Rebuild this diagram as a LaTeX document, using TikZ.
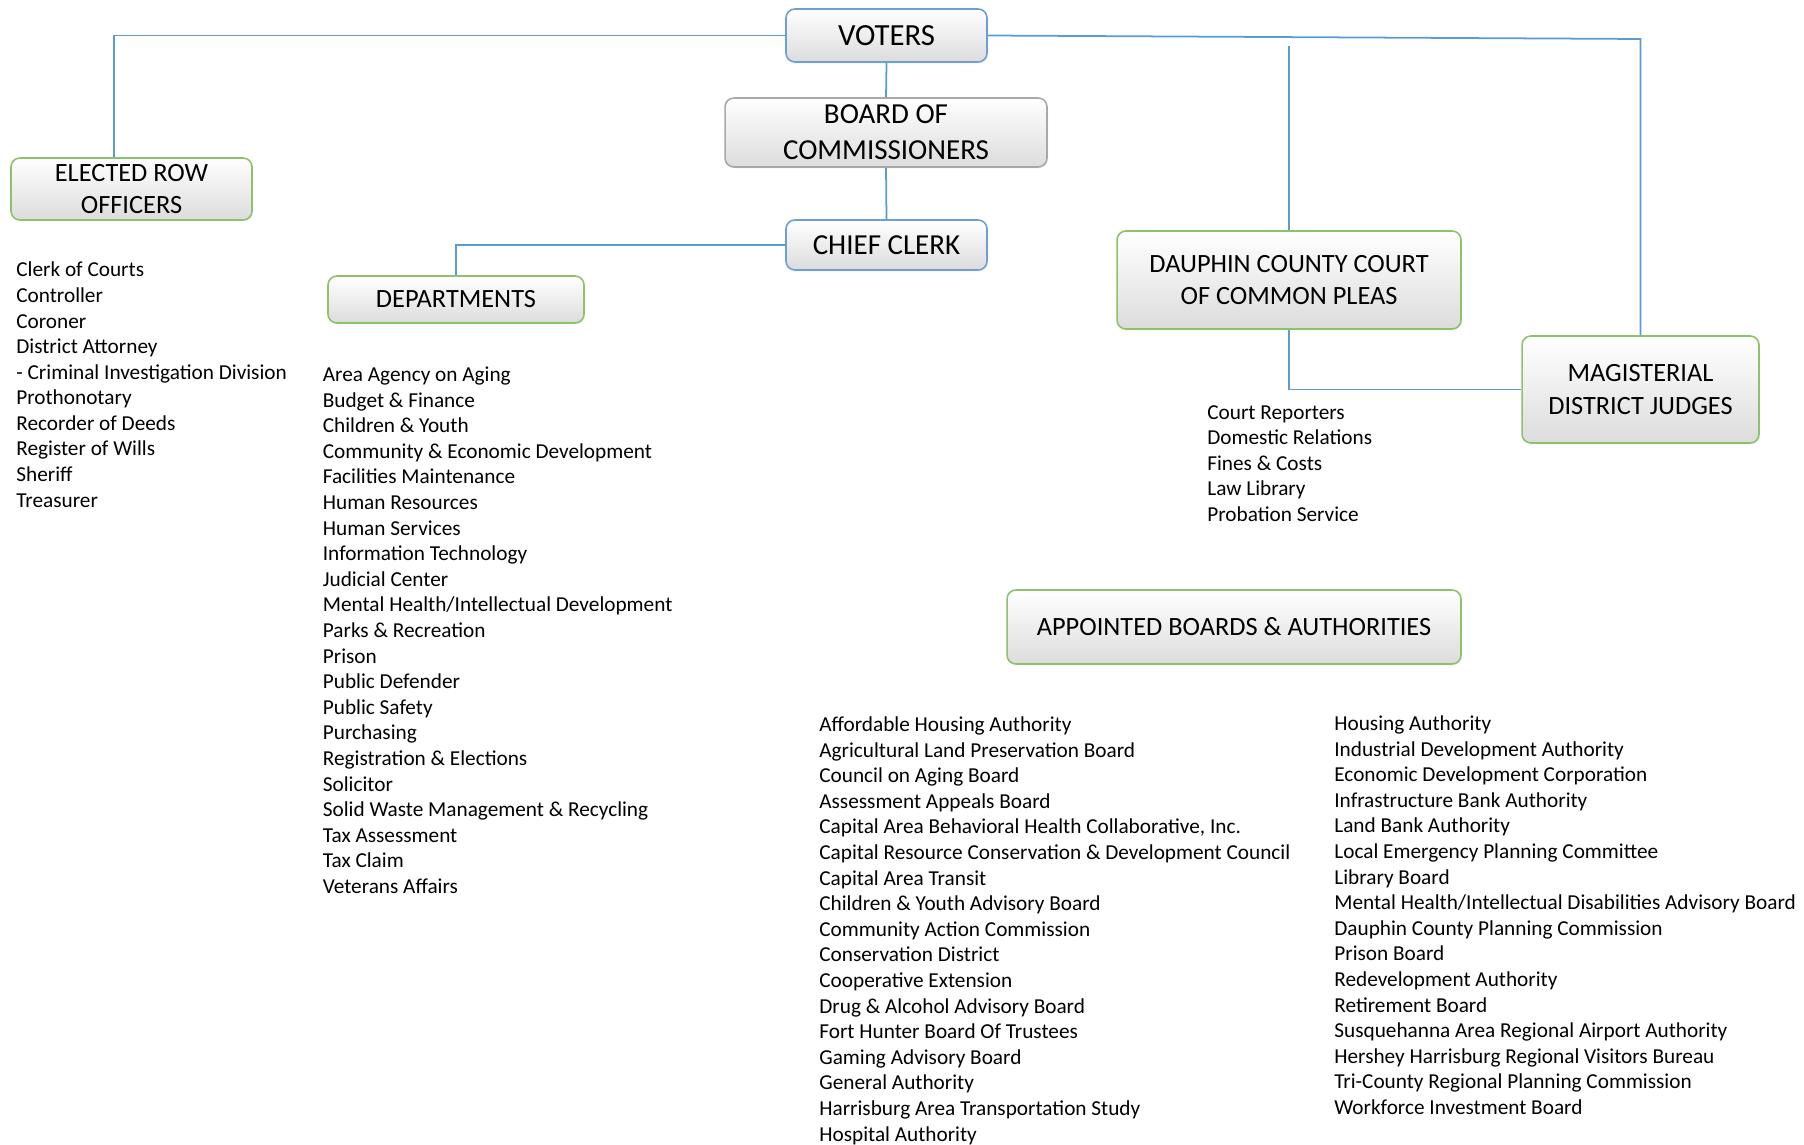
\documentclass[tikz,border=0pt]{standalone}
\usepackage{fontspec}
\setmainfont{Carlito}
\usepackage{tikz}
\usetikzlibrary{shadows}
\definecolor{OrgLine}{HTML}{5B9BD5}
\definecolor{OrgBlue}{HTML}{6A9FD8}
\definecolor{OrgGreen}{HTML}{8CC26C}
\definecolor{OrgGrey}{HTML}{A8A8A8}
\definecolor{OrgShade}{HTML}{DCDCDC}

\begin{document}
\begin{tikzpicture}[
      x=0.02cm,y=-0.02cm,
      link/.style={draw=OrgLine,line width=1pt},
      orgbox/.style={draw,line width=0.9pt,rounded corners=5pt,align=center,
        top color=white,bottom color=OrgShade,inner sep=2pt,
        drop shadow={opacity=0.12,shadow xshift=0.6pt,shadow yshift=-0.8pt},
        font=\fontsize{15}{18.4}\selectfont},
      listtext/.style={anchor=base west,inner sep=0pt,font=\fontsize{12.1}{14.6}\selectfont}
    ]
    \useasboundingbox (0,0) rectangle (1804,1145);

    \node[orgbox,draw=OrgBlue,minimum width=4.02cm,minimum height=1.06cm,
      font=\fontsize{17.5}{21}\selectfont] (voters) at (886.5,35.5) {VOTERS};
    \node[orgbox,draw=OrgGrey,minimum width=6.44cm,minimum height=1.38cm,
      font=\fontsize{16.5}{20.5}\selectfont] (board) at (886,132.5)
      {BOARD OF\\COMMISSIONERS};
    \node[orgbox,draw=OrgBlue,minimum width=4.02cm,minimum height=1.0cm,
      font=\fontsize{16.5}{20}\selectfont] (clerk) at (886.5,245) {CHIEF CLERK};
    \node[orgbox,draw=OrgGreen,minimum width=5.12cm,minimum height=0.94cm]
      (depts) at (456,299.5) {DEPARTMENTS};
    \node[orgbox,draw=OrgGreen,minimum width=4.82cm,minimum height=1.24cm]
      (elected) at (131.5,189) {ELECTED ROW\\OFFICERS};
    \node[orgbox,draw=OrgGreen,minimum width=6.88cm,minimum height=1.96cm]
      (court) at (1289,280) {DAUPHIN COUNTY COURT\\OF COMMON PLEAS};
    \node[orgbox,draw=OrgGreen,minimum width=4.74cm,minimum height=2.14cm]
      (magist) at (1640.5,389.5) {MAGISTERIAL\\DISTRICT JUDGES};
    \node[orgbox,draw=OrgGreen,minimum width=9.08cm,minimum height=1.48cm]
      (appointed) at (1234,627) {APPOINTED BOARDS \& AUTHORITIES};

    % connectors
    \coordinate (elecTurn) at (114,35.5);
    \coordinate (magTop) at (1640.5,39);
    \coordinate (courtTop) at (1289,46);
    \draw[link] (voters.west) -- (elecTurn) -- (elecTurn |- elected.north);
    \draw[link] (voters.south) -- (board.north);
    \draw[link] (board.south) -- (clerk.north);
    \draw[link] (clerk.west) -| (depts.north);
    \draw[link] (voters.east) -- (magTop) -- (magist.north);
    \draw[link] (courtTop) -- (court.north);
    \draw[link] (court.south) |- (magist.west);

    % lists
    \foreach \t [count=\k from 0] in {Clerk of Courts,Controller,Coroner,
      District Attorney,- Criminal Investigation Division,Prothonotary,
      Recorder of Deeds,Register of Wills,Sheriff,Treasurer}
      \node[listtext] (row\k) at (16,{277+25.57*\k}) {\t};

    \foreach \t [count=\k from 0] in {Area Agency on Aging,Budget \& Finance,
      Children \& Youth,Community \& Economic Development,Facilities Maintenance,
      Human Resources,Human Services,Information Technology,Judicial Center,
      Mental Health/Intellectual Development,Parks \& Recreation,Prison,
      Public Defender,Public Safety,Purchasing,Registration \& Elections,
      Solicitor,Solid Waste Management \& Recycling,Tax Assessment,Tax Claim,
      Veterans Affairs}
      \node[listtext] (dept\k) at (322.5,{381.5+25.6*\k}) {\t};

    \foreach \t [count=\k from 0] in {Court Reporters,Domestic Relations,
      Fines \& Costs,Law Library,Probation Service}
      \node[listtext] (crt\k) at (1207,{419+25.6*\k}) {\t};

    \foreach \t [count=\k from 0] in {Affordable Housing Authority,
      Agricultural Land Preservation Board,Council on Aging Board,
      Assessment Appeals Board,
      {Capital Area Behavioral Health Collaborative, Inc.},
      Capital Resource Conservation \& Development Council,Capital Area Transit,
      Children \& Youth Advisory Board,Community Action Commission,
      Conservation District,Cooperative Extension,
      Drug \& Alcohol Advisory Board,Fort Hunter Board Of Trustees,
      Gaming Advisory Board,General Authority,
      Harrisburg Area Transportation Study,Hospital Authority}
      \node[listtext] (abaL\k) at (819,{731.5+25.6*\k}) {\t};

    \foreach \t [count=\k from 0] in {Housing Authority,
      Industrial Development Authority,Economic Development Corporation,
      Infrastructure Bank Authority,Land Bank Authority,
      Local Emergency Planning Committee,Library Board,
      Mental Health/Intellectual Disabilities Advisory Board,
      Dauphin County Planning Commission,Prison Board,Redevelopment Authority,
      Retirement Board,Susquehanna Area Regional Airport Authority,
      Hershey Harrisburg Regional Visitors Bureau,
      Tri-County Regional Planning Commission,Workforce Investment Board}
      \node[listtext] (abaR\k) at (1334,{730.5+25.6*\k}) {\t};
  \end{tikzpicture}
\end{document}
